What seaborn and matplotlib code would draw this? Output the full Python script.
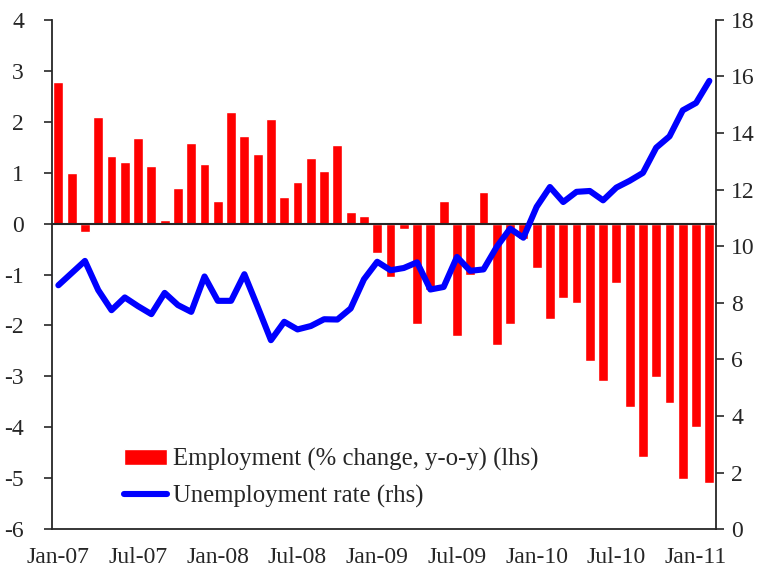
import pandas as pd
import numpy as np
import matplotlib.pyplot as plt
import seaborn as sns
from matplotlib.ticker import MultipleLocator, FixedLocator

# monthly data, Jan-07 .. Feb-11
months = pd.date_range('2007-01-01', periods=50, freq='MS').strftime('%b-%y')
employment = [2.77, 1.00, -0.17, 2.10, 1.32, 1.20, 1.67, 1.12, 0.06, 0.69,
              1.59, 1.16, 0.45, 2.18, 1.71, 1.36, 2.06, 0.53, 0.81, 1.28,
              1.04, 1.55, 0.22, 0.14, -0.57, -1.04, -0.10, -1.98, -1.30, 0.45,
              -2.21, -1.00, 0.61, -2.38, -1.98, -0.30, -0.88, -1.87, -1.47, -1.55,
              -2.69, -3.08, -1.16, -3.60, -4.58, -3.01, -3.52, -5.01, -3.99, -5.09]
unemployment = [8.62, 9.05, 9.48, 8.45, 7.74, 8.19, 7.88, 7.60, 8.35, 7.92,
                7.68, 8.93, 8.07, 8.07, 9.01, 7.86, 6.68, 7.33, 7.06, 7.18,
                7.42, 7.41, 7.80, 8.83, 9.45, 9.15, 9.23, 9.43, 8.47, 8.56,
                9.62, 9.13, 9.18, 9.98, 10.62, 10.30, 11.39, 12.09, 11.56, 11.92,
                11.95, 11.62, 12.07, 12.31, 12.59, 13.48, 13.88, 14.80, 15.06, 15.84]
tick_labels = ['Jan-07', 'Jul-07', 'Jan-08', 'Jul-08', 'Jan-09',
               'Jul-09', 'Jan-10', 'Jul-10', 'Jan-11']

df = pd.DataFrame({'month': months, 'employment': employment,
                   'unemployment': unemployment})
df['pos'] = np.arange(len(df))

sns.set_style('white')
plt.rcParams['font.family'] = ['Liberation Serif', 'DejaVu Serif']
plt.rcParams['font.size'] = 17
plt.rcParams['axes.unicode_minus'] = False

fig = plt.figure(figsize=(7.63, 5.79), dpi=100)
ax = fig.add_axes([0.0678, 0.0858, 0.8706, 0.8802])

sns.barplot(data=df, x='month', y='employment', color='#ff0000', saturation=1,
            width=0.75, ax=ax, label='Employment (% change, y-o-y) (lhs)')
ax.set_xlim(-0.5, len(df) - 0.5)
ax.set_ylim(-6, 4)

ax2 = ax.twinx()
sns.lineplot(data=df, x='pos', y='unemployment', color='#0000ff', lw=4.4,
             ax=ax2, label='Unemployment rate (rhs)')
ax2.set_ylim(0, 18)
ax2.set_xlim(-0.5, len(df) - 0.5)

# category axis drawn at zero, ticks between groups of 6 months
ax.spines['bottom'].set_position(('data', 0))
ax.spines['bottom'].set_linewidth(1.5)
ax.xaxis.set_major_locator(FixedLocator(np.arange(-0.5, len(df), 6)))
ax.tick_params(axis='x', direction='out', length=4, width=1, color='#555555',
               labelbottom=False)
for s in ['top', 'right']:
    ax.spines[s].set_visible(False)
ax.spines['left'].set_linewidth(1.3)

ax.yaxis.set_major_locator(MultipleLocator(1))
ax.tick_params(axis='y', direction='out', length=6, width=1.2, pad=14, left=True)
ax.set_xlabel('')
ax.set_ylabel('')

ax2.yaxis.set_major_locator(MultipleLocator(2))
ax2.tick_params(axis='y', direction='out', length=6, width=1.2, pad=5, right=True)
ax2.spines['top'].set_visible(False)
ax2.spines['left'].set_visible(False)
ax2.spines['right'].set_linewidth(1.3)
ax2.spines['bottom'].set_linewidth(1.3)
ax2.set_ylabel('')
ax2.set_xlabel('')
ax2.tick_params(axis='x', bottom=False, labelbottom=False)

sec = ax.secondary_xaxis(0.0)
sec.set_xticks(np.arange(0, len(df), 6), tick_labels)
sec.tick_params(length=0, pad=13)
sec.spines['bottom'].set_visible(False)

h1, l1 = ax.get_legend_handles_labels()
h2, l2 = ax2.get_legend_handles_labels()
if ax2.get_legend():
    ax2.get_legend().remove()
if ax.get_legend():
    ax.get_legend().remove()
ax2.legend(h1 + h2, l1 + l2, loc='lower left', bbox_to_anchor=(0.09, 0.018),
           frameon=False, fontsize=17.8, handlelength=1.75, handleheight=0.6,
           handletextpad=0.25, labelspacing=0.55, borderpad=0)

plt.savefig('out.png', dpi=100)
plt.close()
